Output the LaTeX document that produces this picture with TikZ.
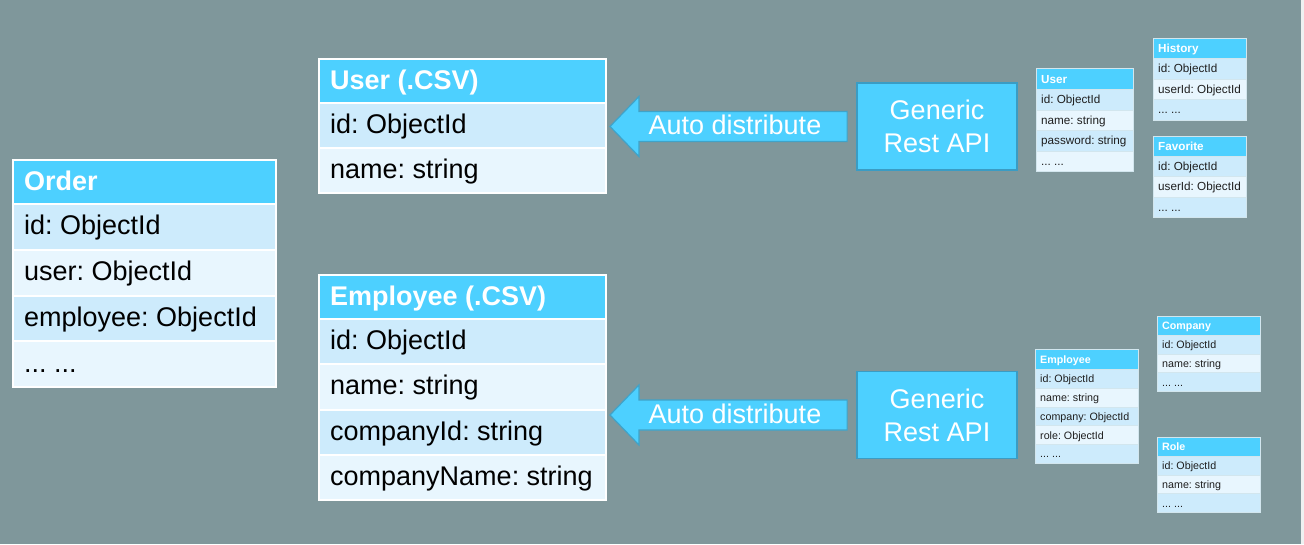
\documentclass[tikz,border=0pt]{standalone}
\usepackage{fontspec}
\setmainfont{Liberation Sans}
\usetikzlibrary{calc}
\frenchspacing
\definecolor{bgc}{HTML}{7F979B}
\definecolor{hdr}{HTML}{4DD0FF}
\definecolor{rowdark}{HTML}{CDEBFC}
\definecolor{rowlight}{HTML}{E8F6FE}
\definecolor{arrborder}{HTML}{3FA3C9}
\definecolor{apiborder}{HTML}{3A9CC4}
\definecolor{smallbord}{HTML}{D2E6EE}
\definecolor{stripc}{HTML}{EEF1F1}
\definecolor{smalltext}{HTML}{1E1E1E}
\newcount\tcnt
\newcommand\dotsrow{... ...}
\def\tsep{2}\def\tpad{12}\def\tfs{27}\def\tbase{8}\def\tbord{white}\def\ttxt{black}
% #1 name, #2 x, #3 y, #4 width, #5 header height, #6 row height, #7 title, #8 rows
\newcommand\dbtable[8]{%
  \global\tcnt=0
  \foreach \r in {#8}{\global\advance\tcnt by 1}%
  \pgfmathsetmacro\tH{2*\tsep+#5+\the\tcnt*(\tsep+#6)}%
  \fill[\tbord] (#2,#3) rectangle ++(#4,\tH);
  \coordinate (#1-ne) at (#2+#4,#3);
  \fill[hdr] (#2+\tsep,#3+\tsep) rectangle ++(#4-2*\tsep,#5);
  \node[anchor=base west, inner sep=0pt, text=white,
        font=\fontsize{\tfs}{\tfs}\selectfont\bfseries]
        (#1) at (#2+\tpad,#3+\tsep+#5/2+\tbase) {#7};
  \foreach \r [count=\i] in {#8}{%
    \pgfmathsetmacro\ry{#3+\tsep+#5+\tsep+(\i-1)*(\tsep+#6)}%
    \ifodd\i\def\rc{rowdark}\else\def\rc{rowlight}\fi
    \fill[\rc] (#2+\tsep,\ry) rectangle ++(#4-2*\tsep,#6);
    \node[anchor=base west, inner sep=0pt, text=\ttxt,
          font=\fontsize{\tfs}{\tfs}\selectfont]
          (#1-\i) at (#2+\tpad,\ry+#6/2+\tbase) {\r};
  }%
}
\tikzset{
  apibox/.style={draw=apiborder, line width=1.8pt, fill=hdr, text=white,
    minimum width=160pt, minimum height=87pt, inner sep=0pt, align=center,
    font=\fontsize{27}{33}\selectfont},
  blockarr/.style={draw=arrborder, line width=1.2pt, fill=hdr, line join=miter},
  arrtext/.style={text=white, inner sep=0pt, anchor=base,
    font=\fontsize{27}{33}\selectfont}
}
\begin{document}
\begin{tikzpicture}[x=1pt,y=-1pt]
\useasboundingbox (0,0) rectangle (1304,544);
\fill[bgc] (0,0) rectangle (1301,544);
\fill[stripc] (1301,0) rectangle (1304,544);

% big tables
\dbtable{order}{12}{159}{265}{42}{43.75}{Order}{id: ObjectId,user: ObjectId,employee: ObjectId,\dotsrow}
\dbtable{user}{318}{58}{289}{42}{43}{User (.CSV)}{id: ObjectId,name: string}
\dbtable{emp}{318}{274}{289}{42}{43.3}{Employee (.CSV)}{id: ObjectId,name: string,companyId: string,companyName: string}

% API boxes
\node[apibox] (api1) at (937,126.5) {Generic\\Rest API};
\node[apibox] (api2) at (937,415) {Generic\\Rest API};

% block arrows
\path ([xshift=3pt]user-ne |- api1.west) coordinate (tip1);
\path ([xshift=-9pt]api1.west) coordinate (tail1);
\draw[blockarr] (tip1) -- ++(29,-30) -- ++(0,15) -- ([yshift=15pt]tail1)
  -- ([yshift=-15pt]tail1) -- ([xshift=29pt,yshift=-15pt]tip1) -- ++(0,15) -- cycle;
\node[arrtext] (lab1) at ([xshift=125pt,yshift=-8pt]tip1) {Auto distribute};

\path ([xshift=3pt]emp-ne |- api2.west) coordinate (tip2);
\path ([xshift=-9pt]api2.west) coordinate (tail2);
\draw[blockarr] (tip2) -- ++(29,-30) -- ++(0,15) -- ([yshift=15pt]tail2)
  -- ([yshift=-15pt]tail2) -- ([xshift=29pt,yshift=-15pt]tip2) -- ++(0,15) -- cycle;
\node[arrtext] (lab2) at ([xshift=125pt,yshift=-8pt]tip2) {Auto distribute};

% small tables
\def\tsep{1}\def\tpad{5}\def\tbord{smallbord}\def\ttxt{smalltext}
\def\tfs{11.7}\def\tbase{4}
\dbtable{suser}{1036}{68}{98}{20}{19.5}{User}{id: ObjectId,name: string,password: string,\dotsrow}
\dbtable{shist}{1153}{38}{94}{19}{19.5}{History}{id: ObjectId,userId: ObjectId,\dotsrow}
\dbtable{sfav}{1153}{136}{94}{19}{19.3}{Favorite}{id: ObjectId,userId: ObjectId,\dotsrow}
\def\tfs{10.7}\def\tbase{3.8}
\dbtable{semp}{1035}{349}{104}{19}{17.8}{Employee}{id: ObjectId,name: string,company: ObjectId,role: ObjectId,\dotsrow}
\dbtable{scomp}{1157}{316}{104}{18}{17.7}{Company}{id: ObjectId,name: string,\dotsrow}
\dbtable{srole}{1157}{437}{104}{18}{17.7}{Role}{id: ObjectId,name: string,\dotsrow}
\end{tikzpicture}
\end{document}
